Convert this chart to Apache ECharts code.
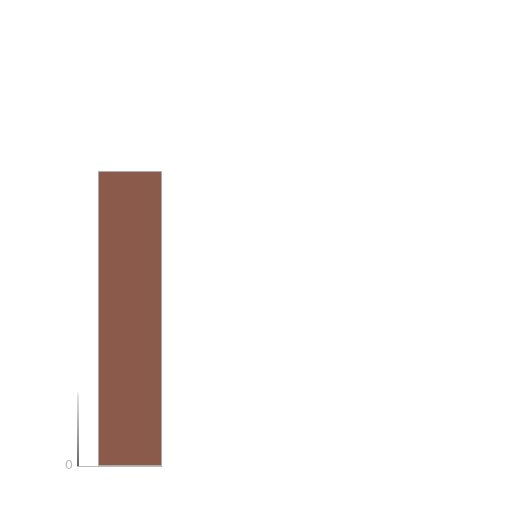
<!DOCTYPE html>
<html>
<head>
<meta charset="utf-8">
<script src="https://cdn.jsdelivr.net/npm/echarts@6/dist/echarts.min.js"></script>
<style>
  html, body { margin: 0; padding: 0; background: #fff; }
  #chart { width: 512px; height: 512px; }
</style>
</head>
<body>
<div id="chart"></div>
<script>
  var categories = [''];
  var values = [100];
  var yTicks = [0];

  var chart = echarts.init(document.getElementById('chart'));
  var option = {
    animation: false,
    grid: { left: 78, top: 171, width: 84, bottom: 46, containLabel: false },
    xAxis: {
      type: 'category',
      data: categories,
      axisTick: { show: false },
      axisLabel: { show: false },
      axisLine: { lineStyle: { color: '#bbb', width: 1 } }
    },
    yAxis: {
      type: 'value',
      min: 0,
      max: 100,
      splitLine: { show: false },
      axisTick: { show: false },
      axisLabel: {
        margin: 5,
        color: '#bbb',
        fontSize: 13,
        fontFamily: 'DejaVu Sans',
        formatter: function (v) { return yTicks.indexOf(v) >= 0 ? String(v) : ''; }
      },
      axisLine: {
        show: true,
        lineStyle: {
          width: 1.5,
          color: new echarts.graphic.LinearGradient(0, 0, 0, 1, [
            { offset: 0, color: 'rgba(80,80,80,0)' },
            { offset: 0.74, color: 'rgba(80,80,80,0)' },
            { offset: 0.76, color: 'rgba(80,80,80,0.25)' },
            { offset: 1, color: 'rgba(40,40,40,1)' }
          ])
        }
      }
    },
    series: [
      {
        // empty spacer so the bar sits to the right of the axis
        type: 'bar',
        data: ['-'],
        barWidth: 20,
        barGap: '0%'
      },
      {
        type: 'bar',
        data: values,
        barWidth: 64,
        itemStyle: { color: '#8b5a4b', borderColor: '#aaa', borderWidth: 1 }
      }
    ]
  };
  chart.setOption(option);
</script>
</body>
</html>
